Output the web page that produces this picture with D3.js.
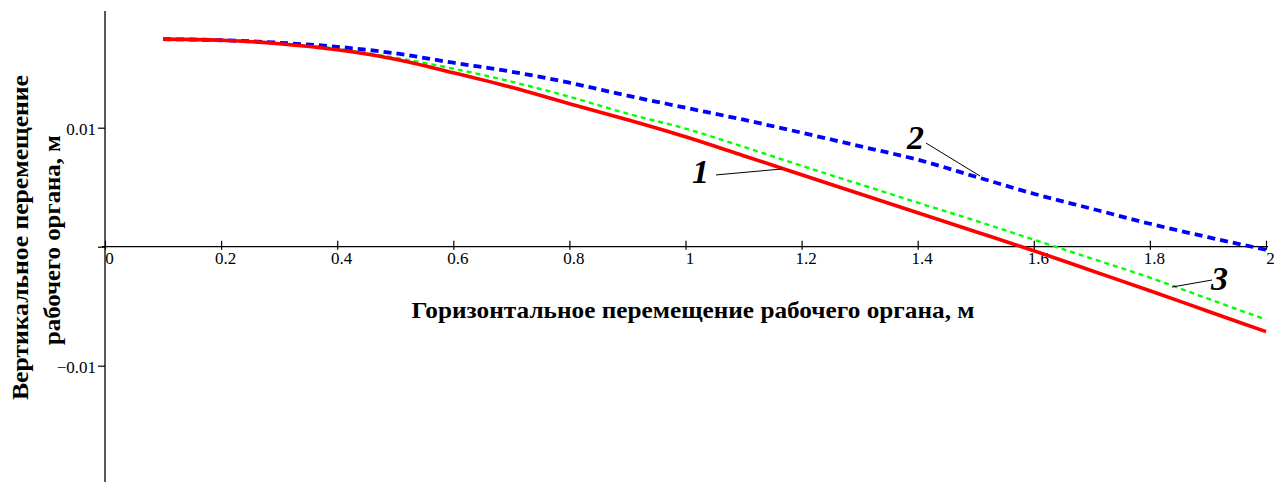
<!DOCTYPE html>
<html>
<head>
<meta charset="utf-8">
<script src="https://cdn.jsdelivr.net/npm/d3@7"></script>
<style>
html,body{margin:0;padding:0;background:#fff;}
svg{display:block;}
</style>
</head>
<body>
<svg id="chart" width="1282" height="482"></svg>
<script>
// ---- data ----
const xValues = [0.1,0.2,0.3,0.4,0.5,0.6,0.7,0.8,0.9,1.0,1.1,1.2,1.3,1.4,1.5,1.6,1.7,1.8,1.9,2.0];
const series1 = [0.01744,0.01735,0.01706,0.01655,0.01576,0.01462,0.0134,0.01202,0.01067,0.00924,0.00765,0.00605,0.00445,0.00286,0.00126,-0.00034,-0.00202,-0.0037,-0.00542,-0.00714];
const series2 = [0.01744,0.01735,0.01714,0.0168,0.01625,0.01546,0.01471,0.01378,0.01269,0.01168,0.01067,0.00958,0.00845,0.00731,0.00588,0.00445,0.00319,0.00193,0.0008,-0.00025];
const series3 = [0.01744,0.01735,0.0171,0.01664,0.01588,0.01496,0.01387,0.0126,0.01118,0.00992,0.0084,0.0068,0.00525,0.0037,0.00218,0.00059,-0.001,-0.0026,-0.00437,-0.00613];
const xTicks = [0,0.2,0.4,0.6,0.8,1,1.2,1.4,1.6,1.8,2];
const xTickLabels = ["0","0.2","0.4","0.6","0.8","1","1.2","1.4","1.6","1.8","2"];
const yTicks = [-0.01,0,0.01];
const yTickLabels = ["\u22120.01","","0.01"];
const xTitle = "Горизонтальное перемещение рабочего органа, м";
const yTitle = ["Вертикальное перемещение","рабочего органа, м"];
// curve labels (data coordinates): text anchor, leader start, leader end
const labelNames = ["1","2","3"];
const labelPos = [[1.011,0.00535],[1.3816,0.00821],[1.9053,-0.00364]];
const leaderFrom = [[1.0525,0.00603],[1.4143,0.00871],[1.907,-0.0028]];
const leaderTo = [[1.166,0.00653],[1.5073,0.00594],[1.838,-0.00339]];

// ---- scales ----
const svg = d3.select("#chart");
const x = d3.scaleLinear().domain([0,2]).range([105,1266]);
const y = d3.scaleLinear().domain([-0.02,0.02]).range([484.7,8.7]);
const serif = "'Liberation Serif','Times New Roman',serif";

// axes lines
svg.append("line").attr("x1",x(0)).attr("x2",x(0)).attr("y1",y(0.0198)).attr("y2",482)
  .attr("stroke","#000").attr("stroke-width",1.3);
svg.append("line").attr("x1",x(0)-3).attr("x2",x(2)+2).attr("y1",y(0)).attr("y2",y(0))
  .attr("stroke","#000").attr("stroke-width",1.3);

// x ticks
const xAxis = d3.axisBottom(x).tickValues(xTicks).tickSize(0).tickFormat((d,i)=>xTickLabels[i]);
const gx = svg.append("g").attr("transform",`translate(0,${y(0)})`).call(xAxis);
gx.select(".domain").remove();
gx.selectAll(".tick line").remove();
gx.selectAll(".tick").append("line").attr("y1",-6).attr("y2",3).attr("stroke","#000").attr("stroke-width",1.2);
gx.selectAll(".tick text").attr("x",4).attr("y",5).attr("dy","0.71em")
  .attr("font-family",serif).attr("font-size",17).attr("fill","#000");

// y ticks
const yAxis = d3.axisLeft(y).tickValues(yTicks).tickSize(0).tickFormat((d,i)=>yTickLabels[i]);
const gy = svg.append("g").attr("transform",`translate(${x(0)},0)`).call(yAxis);
gy.select(".domain").remove();
gy.selectAll(".tick line").remove();
gy.selectAll(".tick").append("line").attr("x1",-7).attr("x2",0).attr("stroke","#000").attr("stroke-width",1.2);
gy.selectAll(".tick text").attr("x",-9).attr("dy","0.4em")
  .attr("font-family",serif).attr("font-size",17).attr("fill","#000");

// curves
const line = d3.line().x(d=>x(d[0])).y(d=>y(d[1])).curve(d3.curveMonotoneX);
const mk = s => xValues.map((v,i)=>[v,s[i]]);
svg.append("path").datum(mk(series3)).attr("d",line).attr("fill","none")
  .attr("stroke","#00ff00").attr("stroke-width",2.4).attr("stroke-dasharray","5,4");
svg.append("path").datum(mk(series2)).attr("d",line).attr("fill","none")
  .attr("stroke","#0000ff").attr("stroke-width",3.8).attr("stroke-dasharray","8,5");
svg.append("path").datum(mk(series1)).attr("d",line).attr("fill","none")
  .attr("stroke","#ff0000").attr("stroke-width",3.6);

// leaders and labels
labelNames.forEach((n,i)=>{
  svg.append("line").attr("x1",x(leaderFrom[i][0])).attr("y1",y(leaderFrom[i][1]))
    .attr("x2",x(leaderTo[i][0])).attr("y2",y(leaderTo[i][1]))
    .attr("stroke","#000").attr("stroke-width",1);
  svg.append("text").attr("x",x(labelPos[i][0])).attr("y",y(labelPos[i][1]))
    .attr("font-family",serif).attr("font-size",34).attr("font-weight","bold")
    .attr("font-style","italic").attr("fill","#000").text(n);
});

// titles
svg.append("text").attr("x",693).attr("y",318).attr("text-anchor","middle")
  .attr("font-family",serif).attr("font-size",23).attr("font-weight","bold")
  .attr("textLength",563).attr("lengthAdjust","spacingAndGlyphs").text(xTitle);
const yt = [[28,237.5,325],[60,240,210]];
yTitle.forEach((t,i)=>{
  svg.append("text").attr("transform",`translate(${yt[i][0]},${yt[i][1]}) rotate(-90)`)
    .attr("text-anchor","middle").attr("font-family",serif).attr("font-size",23)
    .attr("font-weight","bold").attr("textLength",yt[i][2]).attr("lengthAdjust","spacingAndGlyphs").text(t);
});
</script>
</body>
</html>
